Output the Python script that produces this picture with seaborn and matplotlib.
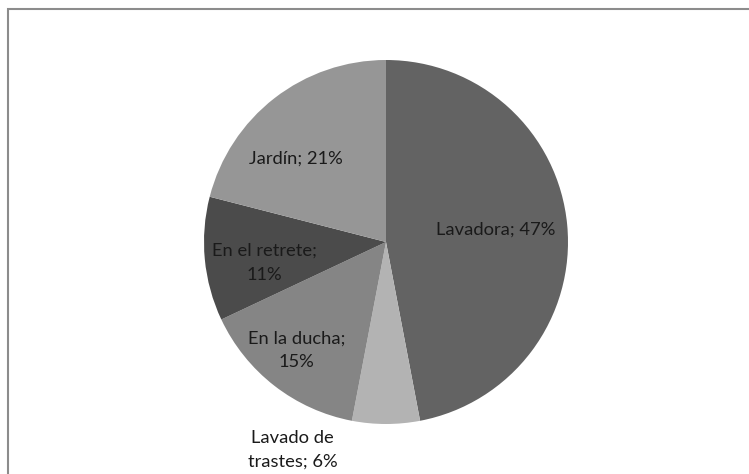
import matplotlib
matplotlib.use("Agg")
import matplotlib.pyplot as plt
import seaborn as sns
from matplotlib.patches import Rectangle

# Datos del gráfico
categorias = ["Lavadora", "Lavado de\ntrastes", "En la ducha", "En el retrete", "Jardín"]
porcentajes = [47, 6, 15, 11, 21]
etiquetas = ["Lavadora; 47%", "Lavado de\ntrastes; 6%", "En la ducha;\n15%", "En el retrete;\n11%", "Jardín; 21%"]
colores = ["#636363", "#b3b3b3", "#858585", "#4b4b4b", "#969696"]

# posiciones de las etiquetas (unidades del radio)
pos_etiquetas = [(0.60, 0.066), (-0.514, -1.14), (-0.49, -0.596), (-0.667, -0.115), (-0.497, 0.459)]

sns.set_theme(style="white")
plt.rcParams['font.family'] = ['Lato', 'DejaVu Sans']

fig = plt.figure(figsize=(7.49, 4.74), dpi=100)
fig.patch.set_facecolor("white")

# marco del gráfico
fig.patches.append(Rectangle((7.5 / 749, -0.1), 1.2, 1 - 9.5 / 474 + 0.1,
                             transform=fig.transFigure, fill=False,
                             edgecolor="#8c8c8c", linewidth=1.5))

cx, cy, r = 386, 242, 182
ax = fig.add_axes([(cx - r) / 749, (474 - cy - r) / 474, 2 * r / 749, 2 * r / 474])
wedges, _ = ax.pie(porcentajes, colors=colores, startangle=90, counterclock=False,
                   radius=1, wedgeprops=dict(linewidth=0))
ax.set_xlim(-1, 1)
ax.set_ylim(-1, 1)
ax.set_aspect("equal")
ax.axis("off")

for texto, (x, y) in zip(etiquetas, pos_etiquetas):
    ax.text(x, y, texto, ha="center", va="center", fontsize=13.2, color="#1a1a1a",
            linespacing=1.6)

fig.savefig("out.png", dpi=100, facecolor="white")
